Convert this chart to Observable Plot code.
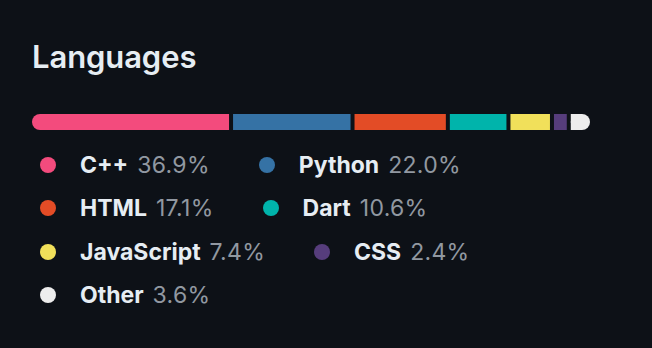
<!DOCTYPE html>
<html>
<head>
<meta charset="utf-8">
<script src="https://cdn.jsdelivr.net/npm/d3@7"></script>
<script src="https://cdn.jsdelivr.net/npm/@observablehq/plot@0.6"></script>
<style>
  html, body { margin: 0; padding: 0; background: #0d1117; width: 652px; height: 348px; overflow: hidden; }
  body { position: relative; font-family: Inter, "Noto Sans", "DejaVu Sans", sans-serif; }
  #title { position: absolute; left: 32px; top: 41px; margin: 0; font-size: 31px; line-height: 32px; font-weight: 600; color: #e6edf3; letter-spacing: -0.1px; }
  #chart { position: absolute; left: 0; top: 106px; }
  #legend { position: absolute; left: 40px; top: 143px; width: 552px; display: flex; flex-wrap: wrap; column-gap: 49px; }
  .item { display: flex; align-items: center; height: 43.5px; font-size: 23px; white-space: nowrap; }
  .dot { width: 16px; height: 16px; border-radius: 50%; margin-right: 24px; flex: none; }
  .name { font-weight: 700; color: #e6edf3; }
  .pct { color: #9198a1; margin-left: 9px; letter-spacing: 0.3px; }
</style>
</head>
<body>
<h2 id="title">Languages</h2>
<div id="chart"></div>
<div id="legend"></div>
<script>
const languages = ["C++", "Python", "HTML", "Dart", "JavaScript", "CSS", "Other"];
const shares = [36.9, 22.0, 17.1, 10.6, 7.4, 2.4, 3.6];
const colors = ["#f34b7d", "#3572a5", "#e34c26", "#00b4ab", "#f1e05a", "#563d7c", "#ededed"];

let acc = 0;
const data = languages.map((name, i) => {
  const d = {name, share: shares[i], color: colors[i], x1: acc, x2: acc + shares[i]};
  acc += shares[i];
  return d;
});

const GAP = 4;
const n = data.length;
const marks = [];
data.forEach((d, i) => {
  const base = {x1: "x1", x2: "x2", fill: "color", dx: GAP * i};
  if (i === 0) {
    marks.push(Plot.barX([d], {...base, rx: 8}));
    marks.push(Plot.barX([d], {...base, insetLeft: 8}));
  } else if (i === n - 1) {
    marks.push(Plot.barX([d], {...base, rx: 8}));
    marks.push(Plot.barX([d], {...base, insetRight: 8}));
  } else {
    marks.push(Plot.barX([d], base));
  }
});

const chart = Plot.plot({
  width: 652,
  height: 32,
  marginLeft: 32,
  marginRight: 652 - 566,
  marginTop: 8,
  marginBottom: 8,
  style: {background: "transparent"},
  x: {domain: [0, 100], axis: null},
  color: {type: "identity"},
  marks
});
document.getElementById("chart").appendChild(chart);

const legend = document.getElementById("legend");
data.forEach(d => {
  const item = document.createElement("div");
  item.className = "item";
  const dot = document.createElement("span");
  dot.className = "dot";
  dot.style.background = d.color;
  const nm = document.createElement("span");
  nm.className = "name";
  nm.textContent = d.name;
  const pc = document.createElement("span");
  pc.className = "pct";
  pc.textContent = d.share.toFixed(1) + "%";
  item.append(dot, nm, pc);
  legend.appendChild(item);
});
</script>
</body>
</html>
